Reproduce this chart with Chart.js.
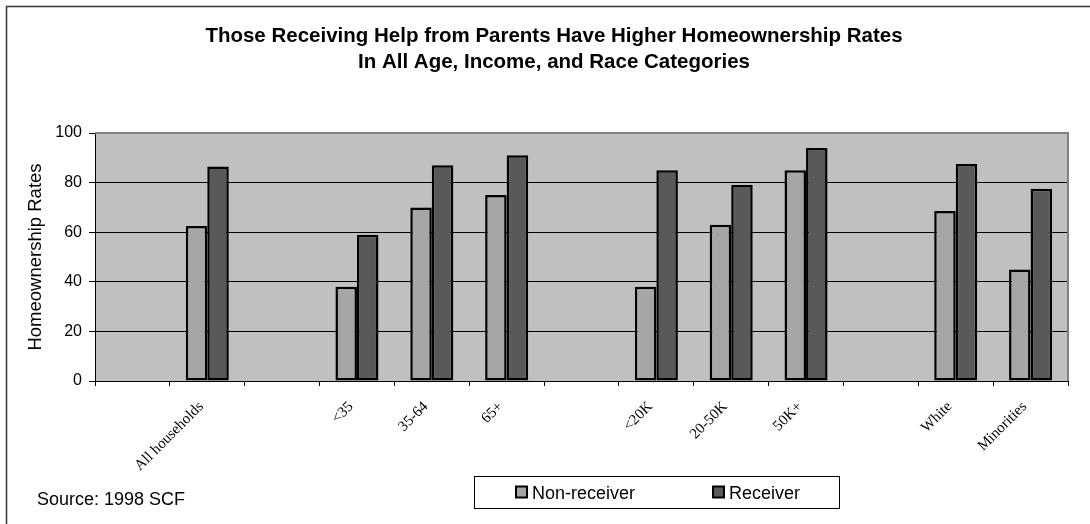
<!DOCTYPE html>
<html>
<head>
<meta charset="utf-8">
<script src="https://cdn.jsdelivr.net/npm/chart.js@4"></script>
<style>
  html, body { margin: 0; padding: 0; background: #fff; }
</style>
</head>
<body>
<canvas id="homeChart" width="1090" height="524"></canvas>
<script>
// data
const categories = ['', 'All households', '', '<35', '35-64', '65+', '', '<20K', '20-50K', '50K+', '', 'White', 'Minorities'];
const nonReceiver = [null, 62.5, null, 38, 70, 75, null, 38, 63, 85, null, 68.5, 45];
const receiver = [null, 86.5, null, 59, 87, 91, null, 85, 79, 94, null, 87.5, 77.5];
const seriesNames = ['Non-receiver', 'Receiver'];
const yTicks = [0, 20, 40, 60, 80, 100];
const titleLines = [
    'Those Receiving Help from Parents Have Higher Homeownership Rates',
    'In All Age, Income, and Race Categories'
];
const sourceNote = 'Source: 1998 SCF';

const sans = '"Liberation Sans", Arial, sans-serif';
const serif = '"Liberation Serif", "Times New Roman", serif';
Chart.defaults.font.family = sans;
Chart.defaults.color = '#000';

// background, frame, title, source note and boxed legend
const excelLook = {
    id: 'excelLook',
    beforeDraw(chart) {
        const c = chart.ctx, a = chart.chartArea;
        c.save();
        c.fillStyle = '#fff';
        c.fillRect(0, 0, chart.width, chart.height);
        c.fillStyle = '#c0c0c0';
        c.fillRect(a.left, a.top, a.right - a.left, a.bottom - a.top);
        c.restore();
    },
    afterDraw(chart) {
        const c = chart.ctx, a = chart.chartArea;
        c.save();
        // gray plot border top / right
        c.strokeStyle = '#808080';
        c.lineWidth = 2;
        c.beginPath();
        c.moveTo(a.left, a.top);
        c.lineTo(a.right, a.top);
        c.lineTo(a.right, a.bottom);
        c.stroke();

        // outer frame (top and left only)
        c.strokeStyle = '#333';
        c.lineWidth = 1.5;
        c.beginPath();
        c.moveTo(6.5, chart.height);
        c.lineTo(6.5, 6.5);
        c.lineTo(chart.width, 6.5);
        c.stroke();

        // title
        c.fillStyle = '#000';
        c.textAlign = 'center';
        c.textBaseline = 'alphabetic';
        c.font = 'bold 20.5px ' + sans;
        titleLines.forEach((t, i) => c.fillText(t, 554, 41.5 + i * 26));

        // source note
        c.textAlign = 'left';
        c.font = '18px ' + sans;
        c.fillText(sourceNote, 37, 505);

        // legend box
        c.strokeStyle = '#000';
        c.lineWidth = 1;
        c.strokeRect(474.5, 476.5, 365, 32);
        const itemX = [516, 713];
        c.font = '18px ' + sans;
        chart.data.datasets.forEach((ds, i) => {
            const x = itemX[i];
            c.fillStyle = ds.backgroundColor;
            c.fillRect(x, 486.5, 11, 11);
            c.lineWidth = 2;
            c.strokeRect(x, 486.5, 11, 11);
            c.fillStyle = '#000';
            c.fillText(ds.label, x + 16, 498.5);
        });
        c.restore();
    }
};

const ctx = document.getElementById('homeChart').getContext('2d');
const homeChart = new Chart(ctx, {
    type: 'bar',
    data: {
        labels: categories,
        datasets: [{
            label: seriesNames[0],
            data: nonReceiver,
            backgroundColor: '#a6a6a6',
            borderColor: '#000',
            borderWidth: 2.5,
            borderSkipped: false
        }, {
            label: seriesNames[1],
            data: receiver,
            backgroundColor: '#595959',
            borderColor: '#000',
            borderWidth: 2.5,
            borderSkipped: false
        }]
    },
    options: {
        responsive: false,
        animation: false,
        categoryPercentage: 0.575,
        barPercentage: 1,
        layout: {
            padding: { left: 0, top: 133, right: 22, bottom: 0 }
        },
        scales: {
            x: {
                offset: true,
                grid: {
                    offset: true,
                    drawOnChartArea: false,
                    tickLength: 5,
                    color: '#000'
                },
                border: { color: '#000', width: 1 },
                ticks: {
                    autoSkip: false,
                    minRotation: 45,
                    maxRotation: 45,
                    padding: 12,
                    labelOffset: -6,
                    font: { family: serif, size: 15 }
                },
                afterFit(scale) { scale.height = 143; }
            },
            y: {
                min: 0,
                max: 100,
                afterBuildTicks(scale) {
                    scale.ticks = yTicks.map(v => ({ value: v }));
                },
                grid: {
                    color: (c) => c.tick && c.tick.value === 100 ? '#808080' : '#000',
                    tickColor: '#000',
                    tickLength: 6
                },
                border: { color: '#000', width: 1 },
                ticks: {
                    padding: 7,
                    font: { size: 16 }
                },
                title: {
                    display: true,
                    text: 'Homeownership Rates',
                    font: { size: 18.5 },
                    padding: { top: 25, bottom: 0 }
                },
                afterFit(scale) { scale.width = 95; }
            }
        },
        plugins: {
            legend: { display: false },
            tooltip: { enabled: false },
            title: { display: false }
        }
    },
    plugins: [excelLook]
});
</script>
</body>
</html>
